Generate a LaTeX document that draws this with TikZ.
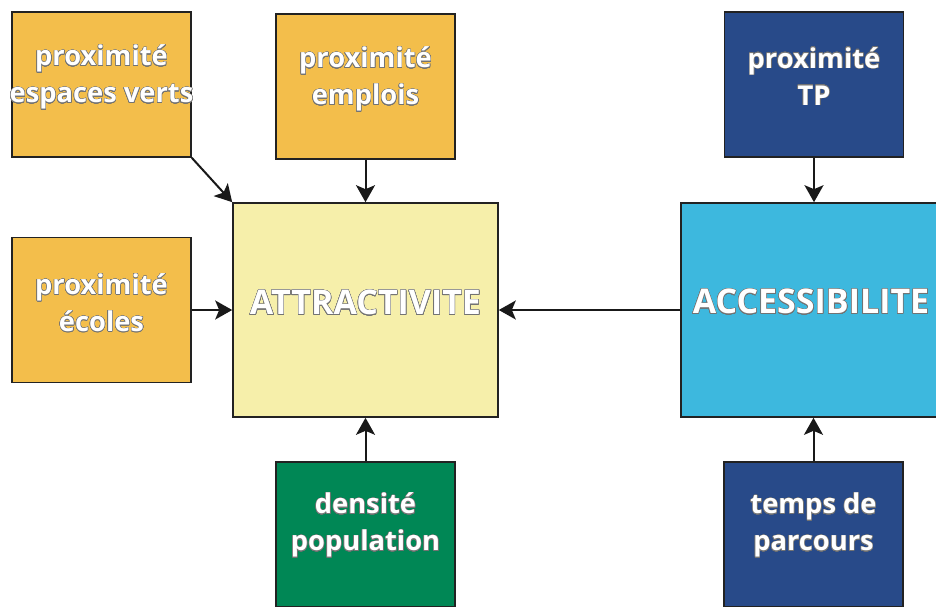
\documentclass[tikz,border=0pt]{standalone}
\usepackage{fontspec}
\setmainfont{Open Sans}
\usepackage[copies]{contour}
\contourlength{0.45pt}
\contournumber{24}
\usetikzlibrary{arrows.meta}

\definecolor{orangebox}{HTML}{F3BE4B}
\definecolor{paleyellow}{HTML}{F6EFAA}
\definecolor{skyblue}{HTML}{3DB8DE}
\definecolor{navybox}{HTML}{284A89}
\definecolor{greenbox}{HTML}{008755}
\definecolor{edgegray}{HTML}{222222}

% white bold lettering with a thin grey outline
\newcommand{\wt}[1]{\contour{black!55}{\color{white}#1}}

\tikzset{
  box/.style={draw=edgegray, line width=1.6pt, inner sep=0pt, minimum width=#1},
  small/.style={box=179pt, minimum height=145pt},
  txt/.style={text=white, font=\bfseries\fontsize{27.3}{37}\selectfont, align=center},
  bigtxt/.style={text=white, font=\bfseries\fontsize{34}{38}\selectfont},
  link/.style={line width=2pt, draw=black!90, -{Stealth[length=17pt,width=19pt,inset=4pt]}}
}

\begin{document}
\begin{tikzpicture}[x=1pt, y=-1pt]
  \useasboundingbox (0,0) rectangle (936,606);
  \clip (0,0) rectangle (936,606);

  % factor boxes
  \node[small, fill=orangebox] (verts) at (101.5,84.5) {};
  \node[txt, yshift=7pt] (vertstxt) at (verts) {\wt{proximité}\\\wt{espaces verts}};

  \node[small, fill=orangebox] (emplois) at (365.5,86.5) {};
  \node[txt, yshift=7pt] (emploistxt) at (emplois) {\wt{proximité}\\\wt{emplois}};

  \node[small, fill=orangebox] (ecoles) at (101.5,310) {};
  \node[txt, yshift=7pt] (ecolestxt) at (ecoles) {\wt{proximité}\\\wt{écoles}};

  \node[small, fill=navybox] (tp) at (814,84.5) {};
  \node[txt, yshift=8pt] (tptxt) at (tp) {\wt{proximité}\\\wt{TP}};

  \node[small, fill=greenbox] (densite) at (365.5,534.5) {};
  \node[txt, yshift=9pt] (densitetxt) at (densite) {\wt{densité}\\\wt{population}};

  \node[small, fill=navybox] (temps) at (813.5,534.5) {};
  \node[txt, yshift=9pt] (tempstxt) at (temps) {\wt{temps de}\\\wt{parcours}};

  % main boxes
  \node[box=265pt, minimum height=214pt, fill=paleyellow] (attr) at (365.5,310) {};
  \node[bigtxt, yshift=7pt] (attrtxt) at (attr) {\wt{ATTRACTIVITE}};

  \node[box=260pt, minimum height=214pt, fill=skyblue] (acc) at (811,310) {};
  \node[bigtxt, yshift=8pt] (acctxt) at (acc) {\wt{ACCESSIBILITE}};

  % influences
  \draw[link] (verts.south east) -- (attr.north west);
  \draw[link] (emplois.south) -- (attr.north -| emplois.south);
  \draw[link] (ecoles.east) -- (attr.west |- ecoles.east);
  \draw[link] (densite.north) -- (attr.south -| densite.north);
  \draw[link] (acc.west) -- (attr.east |- acc.west);
  \draw[link] (tp.south) -- (acc.north -| tp.south);
  \draw[link] (temps.north) -- (acc.south -| temps.north);
\end{tikzpicture}
\end{document}
